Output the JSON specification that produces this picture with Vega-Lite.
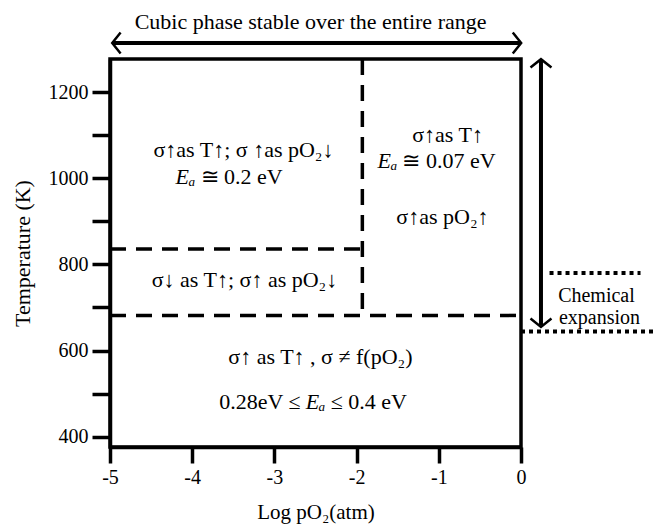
{
  "$schema": "https://vega.github.io/schema/vega-lite/v6.json",
  "width": 411,
  "height": 388,
  "autosize": {"type": "none"},
  "padding": {"left": 110, "top": 59, "right": 136, "bottom": 77},
  "background": "white",
  "config": {
    "view": {"stroke": "black", "strokeWidth": 3.5},
    "font": "Liberation Serif",
    "axis": {
      "domainColor": "black", "domainWidth": 3.5, "tickColor": "black", "tickWidth": 3.5,
      "labelColor": "black", "titleColor": "black", "labelFont": "Liberation Serif",
      "titleFont": "Liberation Serif", "titleFontWeight": "normal", "grid": false,
      "labelFontSize": 20, "titleFontSize": 21
    }
  },
  "encoding": {
    "x": {
      "field": "x", "type": "quantitative",
      "scale": {"domain": [-5, 0], "nice": false, "zero": false},
      "axis": {"values": [-5, -4, -3, -2, -1, 0], "labelExpr": "replace(datum.label, '−', '-')", "tickSize": 16, "labelPadding": 4, "title": "Log pO₂(atm)", "titlePadding": 14, "labelFlush": false}
    },
    "y": {
      "field": "y", "type": "quantitative",
      "scale": {"domain": [376, 1277], "nice": false, "zero": false},
      "axis": {"values": [400, 500, 600, 700, 800, 900, 1000, 1100, 1200], "labelExpr": "datum.value % 200 == 0 ? datum.label : ''", "tickSize": 18, "labelPadding": 4, "title": "Temperature (K)", "titlePadding": 14, "titleFontSize": 22, "format": "d"}
    }
  },
  "layer": [
    {
      "data": {"values": [
        {"x": -1.93, "y": 1277, "x2": -1.93, "y2": 681.5},
        {"x": -5, "y": 836, "x2": -1.93, "y2": 836},
        {"x": -5, "y": 681.5, "x2": 0, "y2": 681.5}
      ]},
      "mark": {"type": "rule", "strokeDash": [16, 10], "strokeWidth": 3.5, "color": "black", "clip": false},
      "encoding": {"x2": {"field": "x2"}, "y2": {"field": "y2"}}
    },
    {
      "data": {"values": [
        {"x": 0.347, "y": 780, "x2": 1.454, "y2": 780},
        {"x": 0, "y": 644, "x2": 1.66, "y2": 644}
      ]},
      "mark": {"type": "rule", "strokeDash": [4, 4], "strokeWidth": 4, "color": "black", "clip": false},
      "encoding": {"x2": {"field": "x2"}, "y2": {"field": "y2"}}
    },
    {
      "data": {"values": [
        {"x": -4.97, "y": 1314, "x2": 0, "y2": 1314},
        {"x": 0.243, "y": 658, "x2": 0.243, "y2": 1275}
      ]},
      "mark": {"type": "rule", "strokeWidth": 4, "color": "black", "clip": false},
      "encoding": {"x2": {"field": "x2"}, "y2": {"field": "y2"}}
    },
    {
      "data": {"values": [
        {"x": -4.973, "y": 1314, "dir": "left"},
        {"x": 0.002, "y": 1314, "dir": "right"},
        {"x": 0.243, "y": 1276.6, "dir": "up"},
        {"x": 0.243, "y": 655, "dir": "down"}
      ]},
      "mark": {"type": "point", "filled": false, "stroke": "black", "strokeWidth": 2.5, "size": 440, "opacity": 1, "clip": false},
      "encoding": {
        "shape": {
          "field": "dir", "type": "nominal", "legend": null,
          "scale": {"domain": ["left", "right", "up", "down"], "range": ["M 0.8 -1 L 0 0 L 0.8 1", "M -0.8 -1 L 0 0 L -0.8 1", "M -1 0.8 L 0 0 L 1 0.8", "M -1 -0.8 L 0 0 L 1 -0.8"]}
        }
      }
    },
    {
      "data": {"values": [
        {"x": -3.376, "y": 1066, "label": "σ↑as T↑; σ ↑as pO₂↓"},
        {"x": -0.894, "y": 1101, "label": "σ↑as T↑"},
        {"x": -0.955, "y": 911, "label": "σ↑as pO₂↑"},
        {"x": -3.364, "y": 764, "label": "σ↓ as T↑; σ↑ as pO₂↓"},
        {"x": -2.44, "y": 586, "label": "σ↑ as T↑  , σ ≠  f(pO₂)"}
      ]},
      "mark": {"type": "text", "font": "Liberation Serif", "fontSize": 22, "color": "black", "align": "center", "baseline": "middle", "clip": false},
      "encoding": {"text": {"field": "label"}}
    },
    {
      "data": {"name": "ea", "values": [
        {"x": -4.203, "y": 1004, "pre": "", "sym": "Eₐ", "post": "≅ 0.2 eV"},
        {"x": -1.746, "y": 1039, "pre": "", "sym": "Eₐ", "post": "≅ 0.07 eV"},
        {"x": -2.62, "y": 481, "pre": "0.28eV ≤", "sym": "Eₐ", "post": "≤ 0.4 eV"}
      ]},
      "layer": [
        {
          "mark": {"type": "text", "font": "Liberation Serif", "fontSize": 22, "fontStyle": "italic", "color": "black", "align": "left", "baseline": "middle", "clip": false},
          "encoding": {"text": {"field": "sym"}}
        },
        {
          "mark": {"type": "text", "font": "Liberation Serif", "fontSize": 22, "color": "black", "align": "right", "baseline": "middle", "dx": -5, "clip": false},
          "encoding": {"text": {"field": "pre"}}
        },
        {
          "mark": {"type": "text", "font": "Liberation Serif", "fontSize": 22, "color": "black", "align": "left", "baseline": "middle", "dx": 25, "clip": false},
          "encoding": {"text": {"field": "post"}}
        }
      ]
    },
    {
      "data": {"values": [
        {"x": -2.56, "y": 1364, "label": "Cubic phase stable over the entire range"}
      ]},
      "mark": {"type": "text", "font": "Liberation Serif", "fontSize": 22, "color": "black", "align": "center", "baseline": "middle", "clip": false},
      "encoding": {"text": {"field": "label"}}
    },
    {
      "data": {"values": [
        {"x": 0.918, "y": 727, "label": "Chemical"},
        {"x": 0.955, "y": 676, "label": "expansion"}
      ]},
      "mark": {"type": "text", "font": "Liberation Serif", "fontSize": 20, "color": "black", "align": "center", "baseline": "middle", "clip": false},
      "encoding": {"text": {"field": "label"}}
    }
  ]
}
